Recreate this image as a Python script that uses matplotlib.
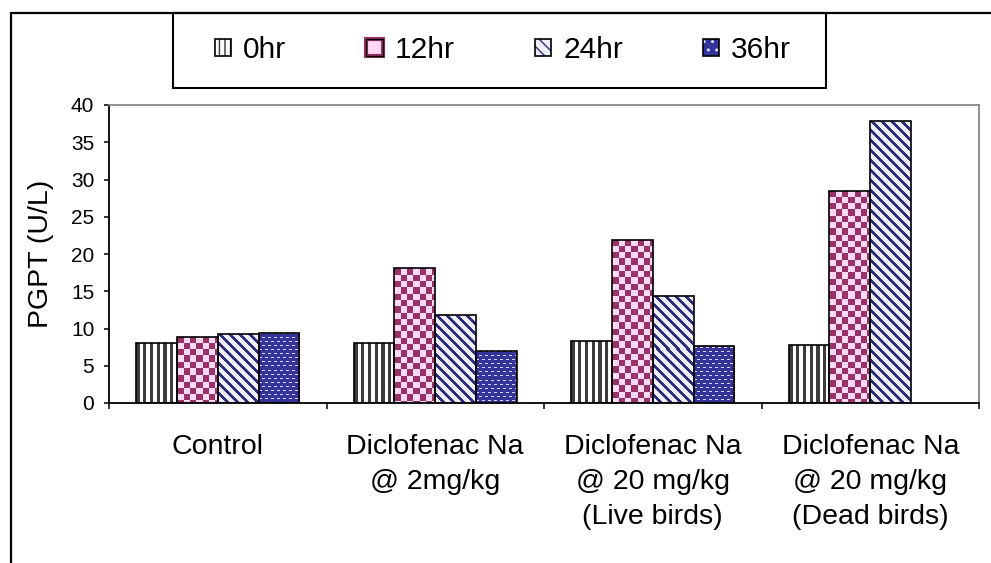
import numpy as np
import matplotlib
matplotlib.use('Agg')
import matplotlib.pyplot as plt
from matplotlib.patches import Rectangle
from matplotlib.colors import to_rgb
from matplotlib.legend_handler import HandlerTuple

plt.rcParams['font.family'] = ['Liberation Sans', 'DejaVu Sans']

# PGPT values (U/L) per treatment group and sampling time
groups = ['Control',
          'Diclofenac Na\n@ 2mg/kg',
          'Diclofenac Na\n@ 20 mg/kg\n(Live birds)',
          'Diclofenac Na\n@ 20 mg/kg\n(Dead birds)']
series = ['0hr', '12hr', '24hr', '36hr']
hr0 = [8.1, 8.0, 8.3, 7.8]
hr12 = [8.9, 18.1, 21.9, 28.5]
hr24 = [9.2, 11.8, 14.4, 37.8]
hr36 = [9.4, 7.0, 7.6, np.nan]   # no 36hr sample for dead birds
yticks = [0, 5, 10, 15, 20, 25, 30, 35, 40]

W, H = 991, 563
fig = plt.figure(figsize=(W / 100, H / 100), dpi=100)
ax = fig.add_axes([109 / W, 1 - 403 / H, 870 / W, 298 / H])
ax.set_xlim(-0.5, 3.5)
ax.set_ylim(0, 40)


def fill_pattern(kind, w, h):
    """Return an RGB pixel texture of size (h, w) for a bar fill."""
    yy, xx = np.mgrid[0:h, 0:w].astype(float)
    if kind == 'vstripe':
        mask = (xx % 6.7) < 3.2
        fg, bg = '#3c3c3c', '#ffffff'
    elif kind == 'checker':
        mask = ((xx // 6.3).astype(int) + (yy // 6.3).astype(int)) % 2 == 0
        fg, bg = '#993366', '#ffd8f6'
    elif kind == 'diag':
        mask = ((xx - yy) % 10) < 4.0
        fg, bg = '#2e2e80', '#eeeeff'
    else:
        row = (yy // 4).astype(int)
        mask = ~(((yy % 4) == 1) & (((xx + 3 * (row % 2)) % 6) < 3))
        fg, bg = '#333399', '#d8d8ff'
    img = np.empty((h, w, 3))
    img[:] = to_rgb(bg)
    img[mask] = to_rgb(fg)
    return img


kinds = ['vstripe', 'checker', 'diag', 'dots']
data = [hr0, hr12, hr24, hr36]
bw = 0.1875
x = np.arange(len(groups))

for i, (vals, kind) in enumerate(zip(data, kinds)):
    xs = x + (i - 1.5) * bw
    for xc, v in zip(xs, vals):
        if np.isnan(v):
            continue
        rect = ax.bar(xc, v, bw, facecolor='none', edgecolor='black',
                      linewidth=1.2, zorder=3)[0]
        x0, x1 = xc - bw / 2, xc + bw / 2
        p0 = ax.transData.transform((x0, 0))
        p1 = ax.transData.transform((x1, v))
        pw, ph = max(int(round(p1[0] - p0[0])), 1), max(int(round(p1[1] - p0[1])), 1)
        im = ax.imshow(fill_pattern(kind, pw, ph), extent=(x0, x1, 0, v),
                       origin='upper', interpolation='nearest', aspect='auto', zorder=2)
        im.set_clip_path(rect)

ax.set_xlim(-0.5, 3.5)
ax.set_ylim(0, 40)

# axes frame: dark left/bottom, grey top/right
for side in ['left', 'bottom']:
    ax.spines[side].set_color('black')
    ax.spines[side].set_linewidth(1.3)
for side in ['top', 'right']:
    ax.spines[side].set_color('#888888')
    ax.spines[side].set_linewidth(1.3)

ax.set_yticks(yticks)
ax.tick_params(axis='y', direction='out', length=3.6, width=1.1, pad=7, labelsize=15)

ax.set_xticks(np.arange(-0.5, 4, 1))
ax.set_xticklabels([])
ax.tick_params(axis='x', which='major', direction='out', length=4.5, width=1.1)
ax.set_xticks(x, minor=True)
ax.set_xticklabels(groups, minor=True, fontsize=20.5, linespacing=1.45)
ax.tick_params(axis='x', which='minor', length=0, pad=22)

fig.text(41 / W, 1 - 254 / H, 'PGPT (U/L)', rotation=90, ha='center', va='center', fontsize=20.5)

# legend swatches
sw = [
    (Rectangle((0, 0), 1, 1, facecolor='white', edgecolor='#333333', hatch='|||', lw=0),
     Rectangle((0, 0), 1, 1, fill=False, edgecolor='black', lw=1.2)),
    (Rectangle((0, 0), 1, 1, facecolor='#ffd8f6', edgecolor='#993366', lw=3),
     Rectangle((0, 0), 1, 1, fill=False, edgecolor='black', lw=1.0)),
    (Rectangle((0, 0), 1, 1, facecolor='#eeeeff', edgecolor='#2e2e80', hatch='\\\\\\', lw=0),
     Rectangle((0, 0), 1, 1, fill=False, edgecolor='black', lw=1.2)),
    (Rectangle((0, 0), 1, 1, facecolor='#333399', edgecolor='#ddddff', hatch='..', lw=0),
     Rectangle((0, 0), 1, 1, fill=False, edgecolor='black', lw=1.2)),
]
fig.legend(sw, series, loc='center', bbox_to_anchor=(503 / W, 1 - 50 / H),
           ncol=4, frameon=False, fontsize=21.5, handlelength=0.55, handleheight=0.5,
           handletextpad=0.4, columnspacing=2.68,
           handler_map={tuple: HandlerTuple(ndivide=1, pad=0)})
fig.add_artist(Rectangle((173 / W, 1 - 88 / H), 653 / W, 75 / H, transform=fig.transFigure,
                         fill=False, edgecolor='black', lw=1.5))

# outer chart border (left and top edges)
fig.add_artist(Rectangle((11 / W, -0.5), 2, 0.5 + 1 - 13 / H, transform=fig.transFigure,
                         fill=False, edgecolor='black', lw=1.6))

fig.savefig('out.png', dpi=100)
